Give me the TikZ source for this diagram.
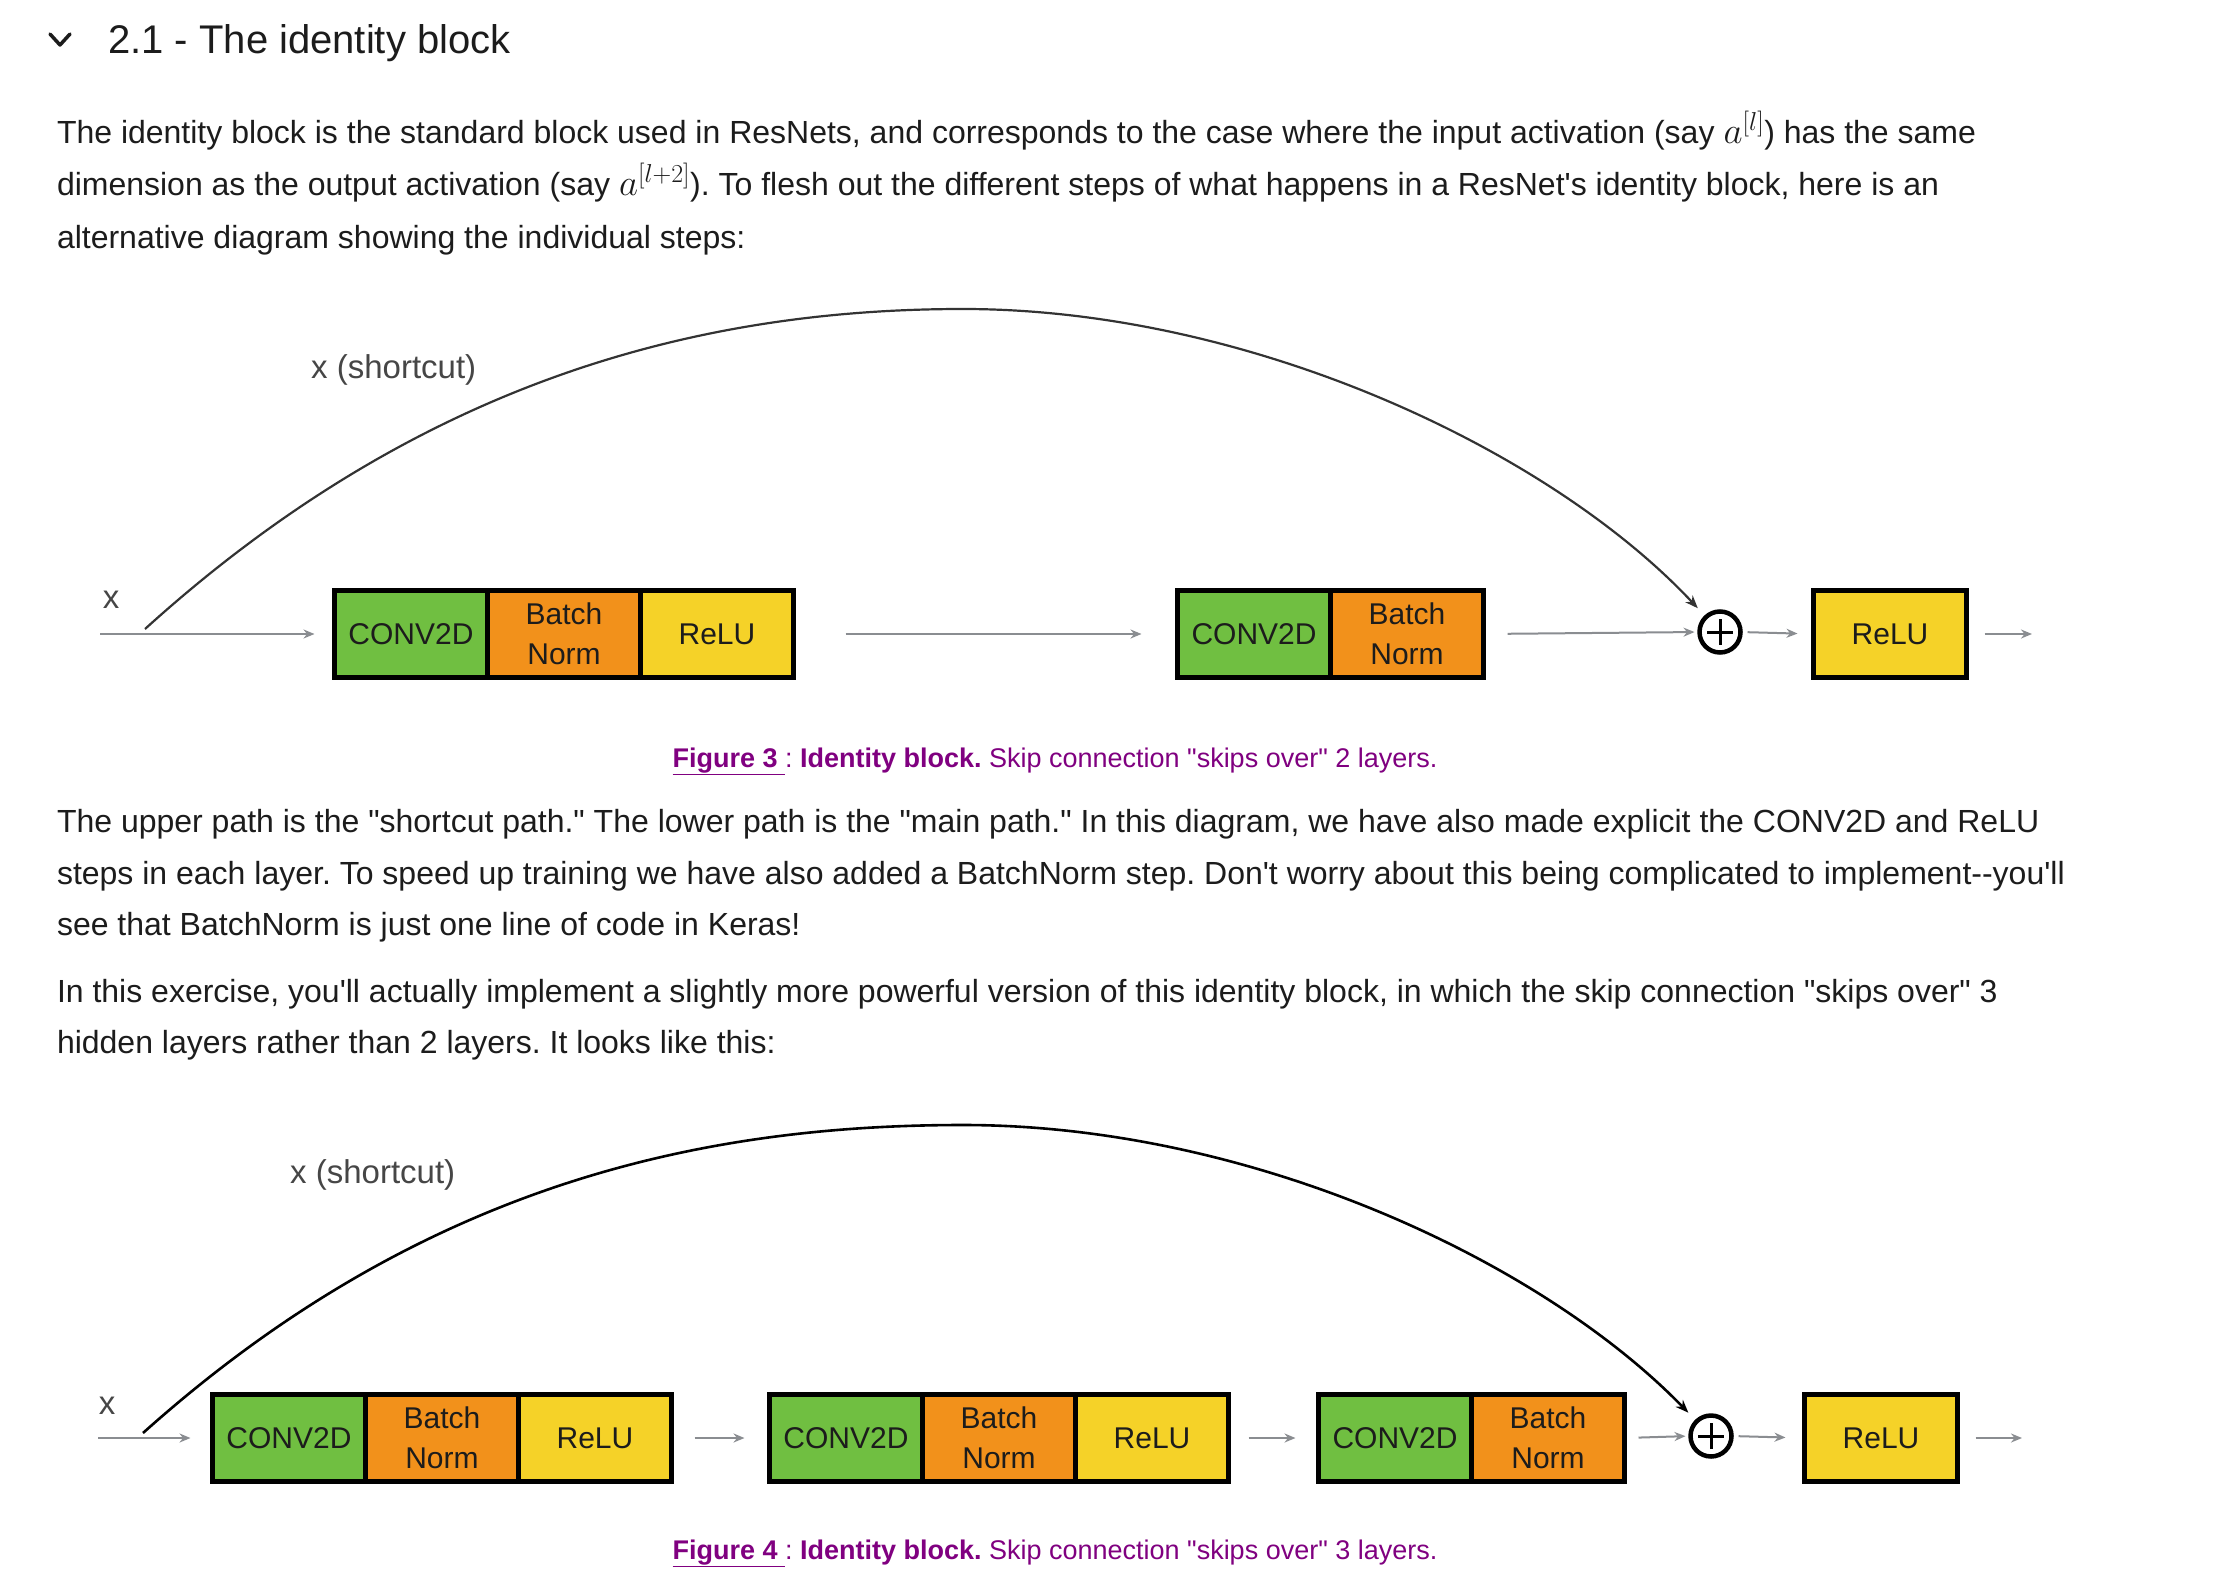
\RequirePackage{fix-cm}
\documentclass[tikz,border=0pt]{standalone}
\usepackage{fontspec}
\setmainfont{Liberation Sans}
\usetikzlibrary{arrows.meta}
\definecolor{cgreen}{RGB}{112,191,65}
\definecolor{corange}{RGB}{242,145,27}
\definecolor{cyellow}{RGB}{245,210,40}
\definecolor{cpurple}{RGB}{128,0,128}
\definecolor{cgray}{RGB}{138,141,145}
\definecolor{ctext}{RGB}{28,28,28}
\definecolor{clabel}{RGB}{70,70,70}
\newcommand\ap{\textquotesingle}
\newcommand\qq{\textquotedbl}
\newcommand\bigmath[1]{{\fontsize{37}{40}\selectfont$#1$}}
\frenchspacing
\begin{document}
\begin{tikzpicture}[x=1pt,y=-1pt,
  body/.style={anchor=base west, inner sep=0pt, outer sep=0pt, text=ctext, font=\fontsize{32}{36}\selectfont},
  heading/.style={anchor=base west, inner sep=0pt, text=ctext, font=\fontsize{40}{46}\selectfont},
  caption/.style={anchor=base, inner sep=0pt, text=cpurple, font=\fontsize{27}{32}\selectfont},
  lbl/.style={inner sep=0pt, text=clabel, font=\fontsize{33}{36}\selectfont},
  cell/.style={draw=black, line width=5pt, minimum width=153pt, minimum height=87pt, inner sep=0pt, outer sep=0pt, text=ctext, font=\fontsize{30}{40}\selectfont, align=center},
  convcell/.style={cell, fill=cgreen},
  bncell/.style={cell, fill=corange},
  relucell/.style={cell, fill=cyellow},
  plusnode/.style={circle, draw=black, line width=4.5pt, minimum size=41pt, inner sep=0pt, outer sep=0pt},
  flowarrow/.style={draw=cgray, line width=2pt, -{Stealth[length=11pt,width=9pt]}},
  arcline/.style={draw=black!80, line width=2.2pt, -{Stealth[length=13pt,width=10pt]}},
]
\useasboundingbox (0,0) rectangle (2236,1584);
\fill[white] (0,0) rectangle (2236,1584);

% heading
\draw[line width=3.5pt, line cap=round, line join=round, draw=ctext] (50,34) -- (60,45) -- (70,34);
\node[heading] (head) at (108,54) {2.1 - The identity block};

% paragraph 1
\node[body] (p1a) at (57,144) {The identity block is the standard block used in ResNets, and corresponds to the case where the input activation (say \bigmath{a^{[l]}}) has the same};
\node[body] (p1b) at (57,196) {dimension as the output activation (say \bigmath{a^{[l+2]}}). To flesh out the different steps of what happens in a ResNet\ap s identity block, here is an};
\node[body] (p1c) at (57,248) {alternative diagram showing the individual steps:};

% ---------- Figure 3 ----------
\node[lbl, anchor=west] (sc3) at (311,370) {x (shortcut)};
\node[lbl] (x3) at (111,600) {x};
\coordinate (in3) at (100,634);
\coordinate (s3) at (145,629);
\coordinate (t3) at (963,309);
\node[convcell] (a1) at (411,634) {CONV2D};
\node[bncell] (a2) at (564,634) {Batch\\Norm};
\node[relucell] (a3) at (717,634) {ReLU};
\node[convcell] (b1) at (1254,634) {CONV2D};
\node[bncell] (b2) at (1407,634) {Batch\\Norm};
\node[plusnode] (p3) at (1720,632) {};
\draw[line width=3pt] ([yshift=-13pt]p3.center) -- ([yshift=13pt]p3.center);
\draw[line width=3pt] ([xshift=-13pt]p3.center) -- ([xshift=13pt]p3.center);
\node[relucell] (r3) at (1890,634) {ReLU};
\coordinate (out3) at (2032,634);
\draw[flowarrow, shorten >=20pt] (in3) -- (a1.west);
\draw[flowarrow, shorten <=52pt, shorten >=36pt] (a3.east) -- (b1.west);
\draw[flowarrow, shorten <=24pt, shorten >=5pt] (b2.east) -- (p3.west);
\draw[flowarrow, shorten <=7pt, shorten >=16pt] (p3.east) -- (r3.west);
\draw[flowarrow, shorten <=18pt] (r3.east) -- (out3);
\draw[arcline, shorten >=12pt] (s3) .. controls (420,380) and (700,309) .. (t3) .. controls (1250,309) and (1550,450) .. (p3);

\node[caption] (cap3) at (1055,767) {\underline{\textbf{Figure 3 }}: \textbf{Identity block.} Skip connection \qq skips over\qq{} 2 layers.};

% paragraph 2 and 3
\node[body] (p2a) at (57,832) {The upper path is the \qq shortcut path.\qq{} The lower path is the \qq main path.\qq{} In this diagram, we have also made explicit the CONV2D and ReLU};
\node[body] (p2b) at (57,884) {steps in each layer. To speed up training we have also added a BatchNorm step. Don\ap t worry about this being complicated to implement-{}-you\ap ll};
\node[body] (p2c) at (57,935) {see that BatchNorm is just one line of code in Keras!};
\node[body] (p3a) at (57,1002) {In this exercise, you\ap ll actually implement a slightly more powerful version of this identity block, in which the skip connection \qq skips over\qq{} 3};
\node[body] (p3b) at (57,1053) {hidden layers rather than 2 layers. It looks like this:};

% ---------- Figure 4 ----------
\node[lbl, anchor=west] (sc4) at (290,1175) {x (shortcut)};
\node[lbl] (x4) at (107,1406) {x};
\coordinate (in4) at (98,1438);
\coordinate (s4) at (143,1433);
\coordinate (t4) at (963,1125);
\node[convcell] (f1) at (289,1438) {CONV2D};
\node[bncell] (f2) at (442,1438) {Batch\\Norm};
\node[relucell] (f3) at (595,1438) {ReLU};
\node[convcell] (g1) at (846,1438) {CONV2D};
\node[bncell] (g2) at (999,1438) {Batch\\Norm};
\node[relucell] (g3) at (1152,1438) {ReLU};
\node[convcell] (h1) at (1395,1438) {CONV2D};
\node[bncell] (h2) at (1548,1438) {Batch\\Norm};
\node[plusnode] (p4) at (1711,1436) {};
\draw[line width=3pt] ([yshift=-13pt]p4.center) -- ([yshift=13pt]p4.center);
\draw[line width=3pt] ([xshift=-13pt]p4.center) -- ([xshift=13pt]p4.center);
\node[relucell] (r4) at (1881,1438) {ReLU};
\coordinate (out4) at (2022,1438);
\draw[flowarrow, shorten >=22pt] (in4) -- (f1.west);
\draw[flowarrow, shorten <=23pt, shorten >=25pt] (f3.east) -- (g1.west);
\draw[flowarrow, shorten <=20pt, shorten >=23pt] (g3.east) -- (h1.west);
\draw[flowarrow, shorten <=14pt, shorten >=5pt] (h2.east) -- (p4.west);
\draw[flowarrow, shorten <=7pt, shorten >=19pt] (p4.east) -- (r4.west);
\draw[flowarrow, shorten <=18pt] (r4.east) -- (out4);
\draw[arcline, draw=black, line width=2.6pt, shorten >=12pt] (s4) .. controls (420,1185) and (700,1125) .. (t4) .. controls (1250,1125) and (1540,1260) .. (p4);

\node[caption] (cap4) at (1055,1559) {\underline{\textbf{Figure 4 }}: \textbf{Identity block.} Skip connection \qq skips over\qq{} 3 layers.};
\end{tikzpicture}
\end{document}
